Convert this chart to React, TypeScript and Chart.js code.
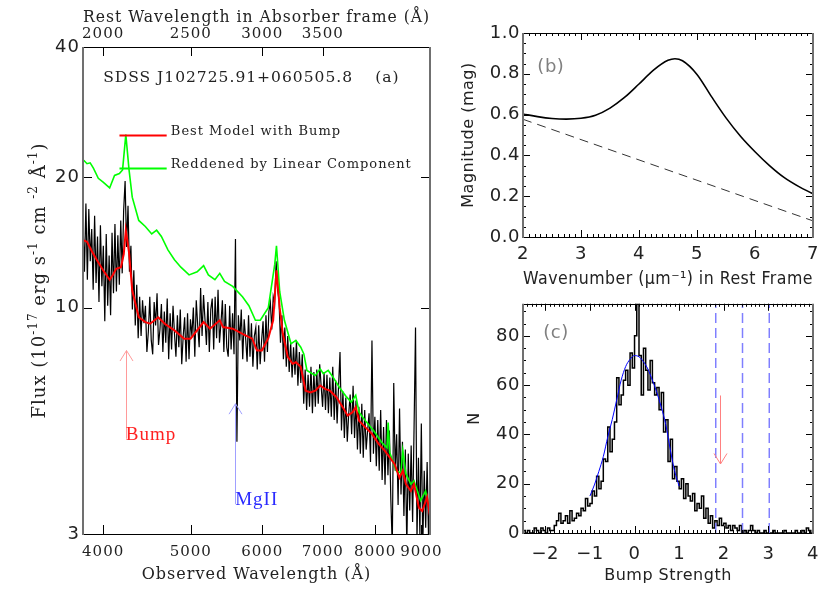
import React, { useEffect, useRef } from 'react';
import { Chart, registerables } from 'chart.js';

Chart.register(...registerables);

const SERIF = "'DejaVu Serif'";
const SANS = "'DejaVu Sans'";
const TXT = '#222';

// ---------------- Panel (a): SDSS spectrum ----------------
const obsRange = [3800, 9200];
const fluxRange = [3, 40];
const restFactor = 2.0; // 1 + z of the absorber
const obsTicks = [4000, 5000, 6000, 7000, 8000, 9000];
const restTicks = [2000, 2500, 3000, 3500];
const fluxTicks = [3, 10, 20, 40];
const fluxMarks = [10, 20];

// observed flux sampled on a uniform log-wavelength grid (3800-9200 A)
const specFlux = [
  15.8, 12.1, 17.4, 11.6, 16.9, 12.8, 15.2, 11.0, 16.3, 11.4,
  14.6, 10.3, 15.5, 11.2, 13.9, 9.3, 14.8, 10.1, 13.2, 9.6,
  14.9, 10.8, 15.6, 10.9, 14.7, 11.3, 15.9, 12.0, 16.8, 19.6,
  13.8, 17.2, 12.1, 13.9, 9.9, 12.2, 9.1, 11.3, 8.5, 10.6,
  8.6, 10.4, 9.2, 10.1, 7.9, 8.8, 10.6, 8.4, 7.8, 10.3,
  9.1, 10.8, 8.2, 8.9, 10.2, 7.9, 9.8, 8.3, 10.5, 7.6,
  9.7, 8.0, 10.1, 8.7, 7.7, 9.6, 8.1, 9.9, 7.4, 8.6,
  9.5, 7.5, 9.7, 7.6, 9.4, 8.6, 10.0, 7.7, 10.4, 9.1,
  8.1, 11.1, 8.6, 10.7, 9.4, 8.2, 10.3, 7.9, 9.9, 10.5,
  8.0, 10.6, 8.5, 11.0, 8.3, 9.2, 10.4, 7.9, 10.2, 8.1,
  7.7, 10.1, 8.0, 9.7, 7.8, 14.4, 4.9, 9.6, 8.4, 9.9,
  7.6, 9.4, 8.5, 7.5, 9.6, 7.7, 9.2, 7.3, 8.6, 9.0,
  7.2, 9.1, 7.4, 8.4, 9.3, 7.5, 9.6, 7.9, 9.8, 10.3,
  8.9, 10.6, 10.2, 12.8, 11.0, 10.4, 8.3, 9.6, 7.6, 9.0,
  7.3, 8.6, 7.1, 8.3, 6.9, 8.1, 7.0, 8.4, 6.6, 7.9,
  6.7, 7.8, 6.0, 7.2, 5.8, 7.0, 5.9, 7.3, 5.7, 7.1,
  5.9, 7.2, 6.0, 7.4, 6.6, 5.9, 7.1, 5.8, 7.0, 5.7,
  6.9, 5.6, 7.3, 5.5, 6.8, 5.4, 6.6, 7.9, 5.2, 6.4,
  5.0, 6.2, 4.9, 5.7, 6.3, 5.1, 6.6, 5.0, 6.1, 4.7,
  5.9, 4.6, 6.0, 4.5, 5.8, 4.7, 5.2, 5.7, 4.4, 8.4,
  4.6, 5.6, 4.3, 5.5, 4.2, 5.8, 4.0, 5.3, 3.9, 5.5,
  4.1, 5.2, 3.6, 2.8, 6.7, 4.2, 5.1, 3.5, 5.85, 3.7,
  4.9, 3.3, 4.7, 2.8, 4.6, 3.4, 4.8, 3.2, 5.3, 9.0,
  2.9, 4.5, 3.0, 5.4, 2.8, 4.2, 3.1, 4.4, 2.9, 3.8,
];

const modelWave = [
  3807, 3839, 3887, 3935, 4000, 4067, 4100, 4135, 4186, 4216, 4238, 4273, 4308, 4380, 4454,
  4509, 4603, 4680, 4797, 4917, 4998, 5167, 5252, 5384, 5429, 5565, 5705, 5848, 5920, 5994,
  6093, 6169, 6221, 6272, 6323, 6402, 6482, 6536, 6618, 6700, 6784, 6868, 6954, 7040, 7128,
  7245, 7366, 7458, 7551, 7613, 7678, 7804, 7934, 8067, 8200, 8302, 8406, 8510, 8582, 8652,
  8760, 8832, 8942, 9018, 9130, 9205,
];
const modelFlux = [
  14.3, 14.2, 13.5, 12.9, 12.2, 11.6, 11.9, 12.3, 12.4, 13.3, 15.1, 13.4, 10.95, 9.5, 9.26,
  9.18, 9.5, 9.18, 8.86, 8.48, 8.48, 9.26, 8.94, 9.35, 9.02, 8.94, 8.7, 8.48, 7.96, 7.96,
  8.5, 9.35, 12.2, 10.0, 8.7, 7.7, 7.42, 7.48, 7.3, 6.43, 6.37, 6.43, 6.61, 6.49, 6.43,
  6.22, 5.89, 5.63, 5.73, 5.89, 5.48, 5.29, 5.11, 4.85, 4.67, 4.51, 4.35, 4.05, 4.2, 3.91,
  3.77, 3.91, 3.45, 3.39, 3.65, 3.27,
];

const linearWave = [
  3807, 3839, 3870, 3902, 3951, 4000, 4067, 4118, 4169, 4203, 4238, 4273, 4308, 4380, 4454,
  4527, 4584, 4640, 4718, 4797, 4876, 4979, 5083, 5167, 5230, 5318, 5384, 5450, 5565, 5705,
  5799, 5896, 5970, 6093, 6194, 6221, 6272, 6348, 6456, 6536, 6618, 6670, 6723, 6868, 6954,
  7009, 7098, 7188, 7304, 7436, 7526, 7613, 7678, 7804, 7966, 8136, 8244, 8269, 8302, 8441,
  8542, 8582, 8652, 8760, 8832, 8982, 9095, 9205,
];
const linearFlux = [
  21.9, 21.5, 21.6, 21.0, 19.9, 19.5, 18.9, 20.2, 20.4, 20.8, 25.1, 20.8, 18.0, 15.9, 15.4,
  14.8, 15.1, 14.6, 13.6, 12.9, 12.4, 11.9, 12.1, 12.5, 11.9, 11.6, 12.0, 11.5, 11.2, 10.6,
  10.1, 9.35, 9.35, 10.0, 12.6, 13.9, 10.9, 9.35, 8.25, 8.4, 8.1, 7.82, 7.16, 6.97, 7.22,
  7.04, 7.16, 6.9, 6.54, 6.22, 6.05, 6.27, 5.73, 5.48, 5.2, 4.88, 4.75, 5.43, 4.63, 4.2,
  4.15, 4.68, 4.13, 3.91, 3.98, 3.58, 3.77, 3.39,
];

const objectName = 'SDSS J102725.91+060505.8';
const legendLabels = ['Best Model with Bump', 'Reddened by Linear Component'];
const legendFlux = [25.06, 21.0];
const legendWave = [4170, 4703, 4753];
const bumpMark = { wave: 4238, tip: 7.96, tail: 4.98, label: 'Bump' };
const mgMark = { wave: 5600, tip: 6.0, tail: 3.52, label: 'MgII' };

// ---------------- Panel (b): extinction curve ----------------
const extWave = [2.0, 2.25, 2.5, 2.75, 3.0, 3.25, 3.5, 3.75, 4.0, 4.25, 4.5, 4.62, 4.75, 5.0, 5.25, 5.5, 5.75, 6.0, 6.25, 6.5, 6.75, 7.0];
const extBump = [0.603, 0.590, 0.581, 0.578, 0.582, 0.597, 0.632, 0.684, 0.750, 0.818, 0.866, 0.874, 0.864, 0.797, 0.688, 0.584, 0.494, 0.418, 0.350, 0.292, 0.248, 0.212];
const extLinWave = [2, 7];
const extLin = [0.577, 0.079];

// ---------------- Panel (c): bump-strength histogram ----------------
const histStart = -2.5;
const histBin = 0.05;
const histCounts = [
  1, 0, 1, 0, 0, 2, 1, 0, 2, 1, 0, 2, 1, 1, 3,
  5, 8, 4, 5, 7, 4, 9, 5, 6, 8,
  7, 10, 9, 14, 11, 12, 17, 15, 23, 18,
  21, 30, 29, 43, 33, 38, 45, 63, 52, 56,
  62, 66, 60, 73, 67, 80, 93, 72, 56, 75,
  66, 58, 70, 61, 56, 59, 50, 57, 41, 46,
  29, 38, 22, 27, 21, 18, 22, 14, 20, 15,
  13, 16, 9, 12, 10, 15, 6, 10, 4, 7,
  2, 5, 3, 6, 3, 4, 2, 3, 1, 3,
  2, 1, 3, 0, 1, 0, 1, 3, 1, 0,
  1, 0, 0, 1, 0, 0, 0, 1, 0, 0, 0, 0, 1, 0, 0, 0, 0, 1, 0, 0, 1, 0, 2, 1, 0,
];
const fitX = [-1.0, -0.9, -0.8, -0.7, -0.6, -0.5, -0.4, -0.3, -0.2, -0.1, 0.0, 0.1, 0.2, 0.3, 0.4, 0.5, 0.6, 0.7, 0.8, 0.9, 1.0];
const fitN = [15, 19.5, 25, 31, 39, 46, 54, 62, 67.5, 70.5, 72, 71.5, 69.5, 66.5, 62, 57, 51, 44, 34, 25, 19];
const limitLines = [1.82, 2.42, 3.02];
const measured = { x: 1.92, top: 55.8, tip: 28 };
const histYMax = 93;

// ---------------- helpers ----------------
const pts = (xs: number[], ys: number[]) => xs.map((x, i) => ({ x, y: ys[i] }));
const specWave = specFlux.map((_, i) => obsRange[0] * Math.pow(obsRange[1] / obsRange[0], i / (specFlux.length - 1)));
const histX = histCounts.map((_, k) => histStart + histBin * (k + 0.5));
const range = (a: number, b: number, s: number) => {
  const out: number[] = [];
  for (let v = a; v <= b + 1e-9; v += s) out.push(Math.round(v * 1000) / 1000);
  return out;
};

const spacingPlugin = {
  id: 'spacing',
  beforeDraw(chart: any, _a: any, opts: any) {
    (chart.ctx as any).letterSpacing = opts.value || '0px';
  },
};

const framePlugin = {
  id: 'frame',
  afterDatasetsDraw(chart: any, _a: any, opts: any) {
    const { ctx, chartArea } = chart;
    const { left, right, top, bottom } = chartArea;
    ctx.save();
    ctx.strokeStyle = '#000';
    ctx.lineWidth = 1;
    for (const m of opts.marks || []) {
      const sc = chart.scales[m.scale];
      const horiz = sc.isHorizontal();
      for (const v of m.values) {
        const p = sc.getPixelForValue(v);
        if (horiz) {
          if (p < left + 1.5 || p > right - 1.5) continue;
          const xp = Math.round(p) + 0.5;
          for (const s of m.sides) {
            ctx.beginPath();
            if (s === 'bottom') { ctx.moveTo(xp, bottom); ctx.lineTo(xp, bottom - m.len); }
            else { ctx.moveTo(xp, top); ctx.lineTo(xp, top + m.len); }
            ctx.stroke();
          }
        } else {
          if (p < top + 1.5 || p > bottom - 1.5) continue;
          const yp = Math.round(p) + 0.5;
          for (const s of m.sides) {
            ctx.beginPath();
            if (s === 'left') { ctx.moveTo(left, yp); ctx.lineTo(left + m.len, yp); }
            else { ctx.moveTo(right, yp); ctx.lineTo(right - m.len, yp); }
            ctx.stroke();
          }
        }
      }
    }
    const t = Math.round(top) + 0.5, b = Math.round(bottom) + 0.5;
    ctx.beginPath();
    ctx.moveTo(left, t); ctx.lineTo(right, t);
    ctx.moveTo(left, b); ctx.lineTo(right, b);
    ctx.stroke();
    ctx.strokeStyle = '#707070';
    ctx.lineWidth = 2;
    ctx.beginPath();
    ctx.moveTo(Math.round(left), top); ctx.lineTo(Math.round(left), bottom + 1);
    ctx.moveTo(Math.round(right), top); ctx.lineTo(Math.round(right), bottom + 1);
    ctx.stroke();
    ctx.restore();
  },
};

function drawArrow(ctx: any, x: number, yTail: number, yTip: number, color: string) {
  const xp = Math.round(x) + 0.5;
  const dir = yTip < yTail ? 1 : -1;
  ctx.strokeStyle = color;
  ctx.lineWidth = 1;
  ctx.beginPath();
  ctx.moveTo(xp, yTail); ctx.lineTo(xp, yTip);
  ctx.moveTo(xp - 6.5, yTip + dir * 10.5); ctx.lineTo(xp, yTip); ctx.lineTo(xp + 6.5, yTip + dir * 10.5);
  ctx.stroke();
}

const fluxTitle: [string, boolean][] = [
  ['Flux (10', false], ['-17', true], [' erg s', false], ['-1', true], [' cm ', false], ['-2', true], [' Å', false], ['-1', true], [')', false],
];

const notesA = {
  id: 'notesA',
  afterDatasetsDraw(chart: any) {
    const { ctx, chartArea: ca } = chart;
    const x = chart.scales.x, y = chart.scales.y;
    ctx.save();
    ctx.fillStyle = TXT;
    ctx.textAlign = 'left';
    ctx.textBaseline = 'middle';
    ctx.font = `15.5px ${SERIF}`;
    ctx.fillText(objectName, x.getPixelForValue(4000), y.getPixelForValue(34));
    ctx.fillText('(a)', x.getPixelForValue(8000), y.getPixelForValue(34));
    // legend
    ctx.font = `13px ${SERIF}`;
    const colors = ['#ff0000', '#00ff00'];
    legendLabels.forEach((lab, i) => {
      const yy = Math.round(y.getPixelForValue(legendFlux[i])) + 0.5;
      ctx.strokeStyle = colors[i];
      ctx.lineWidth = 2;
      ctx.beginPath();
      ctx.moveTo(x.getPixelForValue(legendWave[0]), yy);
      ctx.lineTo(x.getPixelForValue(legendWave[1]), yy);
      ctx.stroke();
      ctx.fillStyle = TXT;
      ctx.fillText(lab, x.getPixelForValue(legendWave[2]), yy - 4);
    });
    // line identification arrows
    const marks = [
      { m: bumpMark, arrow: '#ff9a9a', text: '#ff2020' },
      { m: mgMark, arrow: '#a0a0ff', text: '#2a2aff' },
    ];
    ctx.font = `19px 'Liberation Serif'`;
    ctx.textBaseline = 'alphabetic';
    for (const { m, arrow, text } of marks) {
      const px = x.getPixelForValue(m.wave);
      const tail = y.getPixelForValue(m.tail);
      drawArrow(ctx, px, tail, y.getPixelForValue(m.tip), arrow);
      ctx.fillStyle = text;
      ctx.fillText(m.label, px, tail + 1);
    }
    // y-axis title with superscripts
    ctx.save();
    ctx.translate(ca.left - 44.5, (ca.top + ca.bottom) / 2 - 10);
    ctx.rotate(-Math.PI / 2);
    const base = `18px ${SERIF}`, sup = `12px ${SERIF}`;
    let total = 0;
    for (const [t, s] of fluxTitle) { ctx.font = s ? sup : base; total += ctx.measureText(t).width; }
    let cx = -total / 2;
    ctx.fillStyle = TXT;
    ctx.textAlign = 'left';
    for (const [t, s] of fluxTitle) {
      ctx.font = s ? sup : base;
      ctx.fillText(t, cx, s ? -2 : 6);
      cx += ctx.measureText(t).width;
    }
    ctx.restore();
    ctx.restore();
  },
};

const notesB = {
  id: 'notesB',
  afterDatasetsDraw(chart: any) {
    const { ctx } = chart;
    ctx.save();
    ctx.fillStyle = '#808080';
    ctx.font = `18px ${SANS}`;
    ctx.textAlign = 'center';
    ctx.textBaseline = 'middle';
    ctx.fillText('(b)', chart.scales.x.getPixelForValue(2.48), chart.scales.y.getPixelForValue(0.832));
    ctx.restore();
  },
};

const notesC = {
  id: 'notesC',
  afterDatasetsDraw(chart: any) {
    const { ctx } = chart;
    const x = chart.scales.x, y = chart.scales.y;
    ctx.save();
    ctx.fillStyle = '#808080';
    ctx.font = `18px ${SANS}`;
    ctx.textAlign = 'center';
    ctx.textBaseline = 'middle';
    ctx.fillText('(c)', x.getPixelForValue(-1.76), y.getPixelForValue(81));
    drawArrow(ctx, x.getPixelForValue(measured.x), y.getPixelForValue(measured.top), y.getPixelForValue(measured.tip), '#ff8080');
    ctx.restore();
  },
};

const noGrid = { grid: { display: false, drawTicks: false }, border: { display: false } };
const setTicks = (vals: number[]) => (s: any) => { s.ticks = vals.map((v) => ({ value: v })); };
const fixW = (w: number) => (s: any) => { s.width = w; };
const fixH = (h: number) => (s: any) => { s.height = h; };
const minus = (v: number) => (v < 0 ? '\u2212' + Math.abs(v) : String(v));

function configA(): any {
  return {
    type: 'line',
    data: {
      datasets: [
        { label: legendLabels[0], data: pts(modelWave, modelFlux), borderColor: '#ff0000', borderWidth: 2, pointRadius: 0 },
        { label: legendLabels[1], data: pts(linearWave, linearFlux), borderColor: '#00ff00', borderWidth: 1.6, pointRadius: 0 },
        { label: objectName, data: pts(specWave, specFlux), borderColor: '#000000', borderWidth: 1.2, pointRadius: 0 },
      ],
    },
    options: {
      responsive: false,
      animation: false,
      events: [],
      layout: { padding: { left: 0, right: 10, top: 0, bottom: 0 } },
      plugins: {
        legend: { display: false },
        tooltip: { enabled: false },
        spacing: { value: '1px' },
        frame: {
          marks: [
            { scale: 'x', values: obsTicks, len: 9, sides: ['bottom'] },
            { scale: 'x2', values: restTicks, len: 9, sides: ['top'] },
            { scale: 'y', values: fluxMarks, len: 9, sides: ['left', 'right'] },
          ],
        },
      },
      scales: {
        x: {
          type: 'logarithmic', position: 'bottom', min: obsRange[0], max: obsRange[1], ...noGrid,
          afterBuildTicks: setTicks(obsTicks), afterFit: fixH(59),
          ticks: { autoSkip: false, maxRotation: 0, padding: 9, color: TXT, font: { family: SERIF, size: 15 }, callback: (v: any) => String(v) },
          title: { display: true, text: 'Observed Wavelength (Å)', color: TXT, font: { family: SERIF, size: 16 }, padding: { top: 0, bottom: 9 } },
        },
        x2: {
          type: 'logarithmic', position: 'top', min: obsRange[0] / restFactor, max: obsRange[1] / restFactor, ...noGrid,
          afterBuildTicks: setTicks(restTicks), afterFit: fixH(47),
          ticks: { autoSkip: false, maxRotation: 0, padding: 4, color: TXT, font: { family: SERIF, size: 15 }, callback: (v: any) => String(v) },
          title: { display: true, text: 'Rest Wavelength in Absorber frame (Å)', color: TXT, font: { family: SERIF, size: 16 }, padding: { top: 8, bottom: 0 } },
        },
        y: {
          type: 'logarithmic', min: fluxRange[0], max: fluxRange[1], ...noGrid,
          afterBuildTicks: setTicks(fluxTicks), afterFit: fixW(83),
          ticks: { autoSkip: false, padding: 3, color: TXT, font: { family: SANS, size: 18 }, callback: (v: any) => String(v) },
        },
      },
    },
    plugins: [spacingPlugin, framePlugin, notesA],
  };
}

function configB(): any {
  return {
    type: 'line',
    data: {
      datasets: [
        { label: 'with bump', data: pts(extWave, extBump), borderColor: '#000', borderWidth: 1.6, pointRadius: 0, cubicInterpolationMode: 'monotone' },
        { label: 'linear', data: pts(extLinWave, extLin), borderColor: '#333', borderWidth: 1, borderDash: [9, 6], pointRadius: 0 },
      ],
    },
    options: {
      responsive: false,
      animation: false,
      events: [],
      layout: { padding: { left: 0, right: 17, top: 33, bottom: 0 } },
      plugins: {
        legend: { display: false },
        tooltip: { enabled: false },
        spacing: { value: '0.5px' },
        frame: {
          marks: [
            { scale: 'x', values: range(2, 7, 1), len: 7, sides: ['bottom', 'top'] },
            { scale: 'x', values: range(2, 7, 0.1), len: 3, sides: ['bottom', 'top'] },
            { scale: 'y', values: range(0, 1, 0.2), len: 7, sides: ['left', 'right'] },
            { scale: 'y', values: range(0, 1, 0.05), len: 3, sides: ['left', 'right'] },
          ],
        },
      },
      scales: {
        x: {
          type: 'linear', min: 2, max: 7, ...noGrid,
          afterBuildTicks: setTicks(range(2, 7, 1)), afterFit: fixH(53),
          ticks: { autoSkip: false, maxRotation: 0, padding: 7, color: TXT, font: { family: SANS, size: 18 }, callback: (v: any) => String(v) },
          title: { display: true, text: 'Wavenumber (μm⁻¹) in Rest Frame', color: TXT, font: { family: SANS, size: 17 }, padding: { top: 0, bottom: 0 } },
        },
        y: {
          type: 'linear', min: 0, max: 1, ...noGrid,
          afterBuildTicks: setTicks(range(0, 1, 0.2)), afterFit: fixW(73),
          ticks: { autoSkip: false, padding: 3, color: TXT, font: { family: SANS, size: 18 }, callback: (v: any) => Number(v).toFixed(1) },
          title: { display: true, text: 'Magnitude (mag)', color: TXT, font: { family: SANS, size: 16 }, padding: { top: 9, bottom: 0 } },
        },
      },
    },
    plugins: [spacingPlugin, framePlugin, notesB],
  };
}

function configC(): any {
  const vlines = limitLines.map((v) => ({
    label: 'limit ' + v, data: [{ x: v, y: 0 }, { x: v, y: histYMax }], borderColor: '#7f7fff', borderWidth: 1.5, borderDash: [10, 5], pointRadius: 0,
  }));
  return {
    type: 'line',
    data: {
      datasets: [
        ...vlines,
        { label: 'Gaussian fit', data: pts(fitX, fitN), borderColor: '#0000ff', borderWidth: 1, pointRadius: 0, cubicInterpolationMode: 'monotone' },
        { label: 'N', data: pts(histX, histCounts), borderColor: '#000', borderWidth: 1.5, pointRadius: 0, stepped: 'middle' },
      ],
    },
    options: {
      responsive: false,
      animation: false,
      events: [],
      layout: { padding: { left: 0, right: 17, top: 7, bottom: 0 } },
      plugins: {
        legend: { display: false },
        tooltip: { enabled: false },
        spacing: { value: '0.5px' },
        frame: {
          marks: [
            { scale: 'x', values: range(-2, 4, 1), len: 7, sides: ['bottom', 'top'] },
            { scale: 'x', values: range(-2.5, 4, 0.1), len: 3, sides: ['bottom', 'top'] },
            { scale: 'y', values: range(0, 80, 20), len: 7, sides: ['left', 'right'] },
            { scale: 'y', values: range(0, 90, 5), len: 3, sides: ['left', 'right'] },
          ],
        },
      },
      scales: {
        x: {
          type: 'linear', min: -2.5, max: 4, ...noGrid,
          afterBuildTicks: setTicks(range(-2, 4, 1)), afterFit: fixH(60),
          ticks: { autoSkip: false, maxRotation: 0, padding: 11, color: TXT, font: { family: SANS, size: 18 }, callback: (v: any) => minus(Number(v)) },
          title: { display: true, text: 'Bump Strength', color: TXT, font: { family: SANS, size: 16 }, padding: { top: 0, bottom: 8 } },
        },
        y: {
          type: 'linear', min: 0, max: histYMax, ...noGrid,
          afterBuildTicks: setTicks(range(0, 80, 20)), afterFit: fixW(73),
          ticks: { autoSkip: false, padding: 3, color: TXT, font: { family: SANS, size: 18 }, callback: (v: any) => String(v) },
          title: { display: true, text: 'N', color: TXT, font: { family: SANS, size: 16 }, padding: { top: 15, bottom: 0 } },
        },
      },
    },
    plugins: [spacingPlugin, framePlugin, notesC],
  };
}

export default function App() {
  const aRef = useRef<HTMLCanvasElement>(null);
  const bRef = useRef<HTMLCanvasElement>(null);
  const cRef = useRef<HTMLCanvasElement>(null);
  useEffect(() => {
    const charts = [
      new Chart(aRef.current as HTMLCanvasElement, configA()),
      new Chart(bRef.current as HTMLCanvasElement, configB()),
      new Chart(cRef.current as HTMLCanvasElement, configC()),
    ];
    return () => charts.forEach((c) => c.destroy());
  }, []);
  return (
    <div style={{ position: 'absolute', left: 0, top: 0, width: 830, height: 593, background: '#fff', overflow: 'hidden' }}>
      <canvas ref={aRef} width={450} height={593} style={{ position: 'absolute', left: 0, top: 0, width: 450, height: 593 }} />
      <canvas ref={bRef} width={380} height={290} style={{ position: 'absolute', left: 450, top: 0, width: 380, height: 290 }} />
      <canvas ref={cRef} width={380} height={303} style={{ position: 'absolute', left: 450, top: 290, width: 380, height: 303 }} />
    </div>
  );
}
